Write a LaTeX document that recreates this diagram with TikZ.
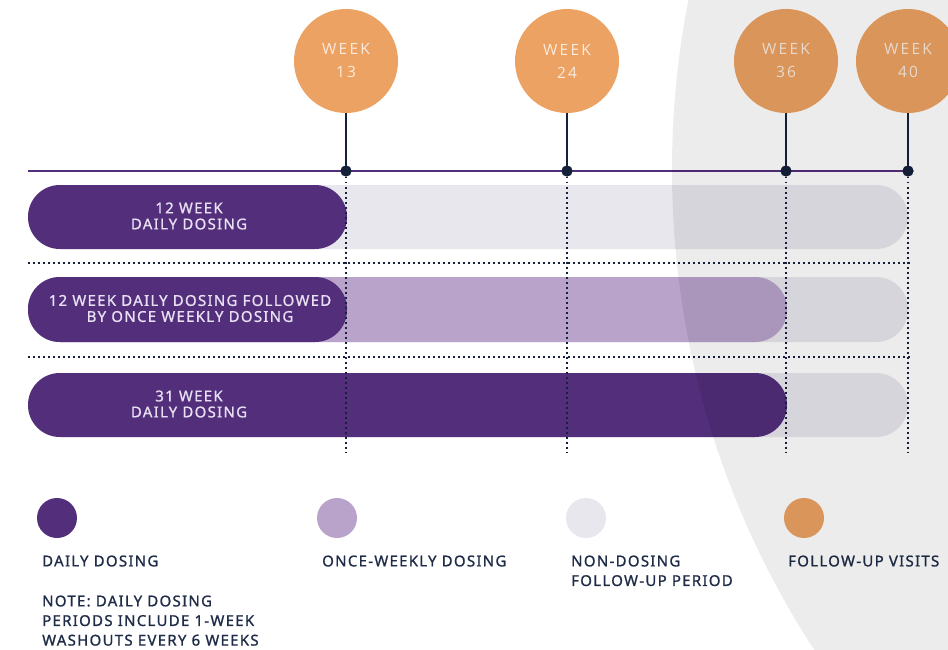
\documentclass[tikz,border=0pt]{standalone}
\usepackage{fontspec}
\setmainfont{Noto Sans}[LetterSpace=8.5, FakeBold=1]
\newfontfamily\circfont{Open Sans}[LetterSpace=14]
\definecolor{dpurple}{HTML}{522E7B}
\definecolor{lpurple}{HTML}{B9A3CB}
\definecolor{lgray}{HTML}{E8E7EE}
\definecolor{vorange}{HTML}{ECA262}
\definecolor{navy}{HTML}{15203A}
\definecolor{cream}{HTML}{FCEBDD}
\definecolor{bartxt}{HTML}{E8E0F2}
\definecolor{legtxt}{HTML}{1F2C48}
\begin{document}
\begin{tikzpicture}[x=1pt,y=-1pt,
  weekcirc/.style={circle, fill=vorange, minimum size=104pt, inner sep=0pt, text=cream,
    font=\circfont\fontsize{15.5}{23}\selectfont, align=center},
  tdot/.style={circle, fill=navy, minimum size=11pt, inner sep=0pt},
  stem/.style={draw=navy, line width=2pt},
  tline/.style={draw=dpurple, line width=2pt},
  vdots/.style={draw=navy, line width=1.8pt, dash pattern=on 1.8pt off 3.2pt},
  bartext/.style={text=bartxt, align=center, inner sep=0pt, font=\fontsize{15}{16}\selectfont},
  legdot/.style={circle, minimum size=40pt, inner sep=0pt},
  legtext/.style={text=legtxt, align=left, inner sep=0pt, anchor=north west, font=\fontsize{15}{19.6}\selectfont},
  rbar/.style={rounded corners=31.9pt}
]
\useasboundingbox (0,0) rectangle (948,650);
\fill[white] (0,0) rectangle (948,650);

% background bars (non-dosing follow-up)
\fill[lgray, rbar] (28,185) rectangle (908,249);
\fill[lgray, rbar] (28,277) rectangle (908,342);
\fill[lgray, rbar] (28,373) rectangle (908,437);
% once weekly
\fill[lpurple, rbar] (28,277) rectangle (787,342);
% daily
\fill[dpurple, rbar] (28,185) rectangle (347,249);
\fill[dpurple, rbar] (28,277) rectangle (347,342);
\fill[dpurple, rbar] (28,373) rectangle (787,437);

% bar texts
\node[bartext] (t1) at (189,216) {12 WEEK\\DAILY DOSING};
\node[bartext] (t2) at (190,308.5) {12 WEEK DAILY DOSING FOLLOWED\\BY ONCE WEEKLY DOSING};
\node[bartext] (t3) at (189,404) {31 WEEK\\DAILY DOSING};

% week circles
\node[weekcirc] (w13) at (346,61) {WEEK\\13};
\node[weekcirc] (w24) at (567,61) {WEEK\\24};
\node[weekcirc] (w36) at (786,61) {WEEK\\36};
\node[weekcirc] (w40) at (908,61) {WEEK\\40};

% timeline
\coordinate (tl0) at (28,171);
\node[tdot] (p13) at (346,171) {};
\node[tdot] (p24) at (567,171) {};
\node[tdot] (p36) at (786,171) {};
\node[tdot] (p40) at (908,171) {};
\draw[tline] (tl0) -- (p40.center);
\draw[stem] (w13) -- (p13.center);
\draw[stem] (w24) -- (p24.center);
\draw[stem] (w36) -- (p36.center);
\draw[stem] (w40) -- (p40.center);
\node[tdot] at (p13) {};
\node[tdot] at (p24) {};
\node[tdot] at (p36) {};
\node[tdot] at (p40) {};

% dotted guides
\coordinate (b13) at (346,452);
\coordinate (b24) at (567,452);
\coordinate (b36) at (786,452);
\coordinate (b40) at (908,452);
\draw[vdots] (p13.south) -- (b13);
\draw[vdots] (p24.south) -- (b24);
\draw[vdots] (p36.south) -- (b36);
\draw[vdots] (p40.south) -- (b40);
\coordinate (h1a) at (28,263);
\coordinate (h1b) at (910,263);
\coordinate (h2a) at (28,357);
\coordinate (h2b) at (910,357);
\draw[vdots] (h1a) -- (h1b);
\draw[vdots] (h2a) -- (h2b);

% legend
\node[legdot, fill=dpurple] (l1) at (57,518) {};
\node[legdot, fill=lpurple] (l2) at (337,518) {};
\node[legdot, fill=lgray] (l3) at (586,518) {};
\node[legdot, fill=vorange] (l4) at (804,518) {};
\node[legtext] (lt1) at (42,555.3) {DAILY DOSING};
\node[legtext] (lt2) at (322,555.3) {ONCE-WEEKLY DOSING};
\node[legtext] (lt3) at (571,555.3) {NON-DOSING\\FOLLOW-UP PERIOD};
\node[legtext] (lt4) at (788,555.3) {FOLLOW-UP VISITS};
\node[legtext] (note) at (42,595.3) {NOTE: DAILY DOSING\\PERIODS INCLUDE 1-WEEK\\WASHOUTS EVERY 6 WEEKS};

% grey backdrop overlay
\begin{scope}
\clip (0,0) rectangle (948,650);
\fill[black, opacity=0.075] (1552,170) circle (880);
\end{scope}
\end{tikzpicture}
\end{document}
